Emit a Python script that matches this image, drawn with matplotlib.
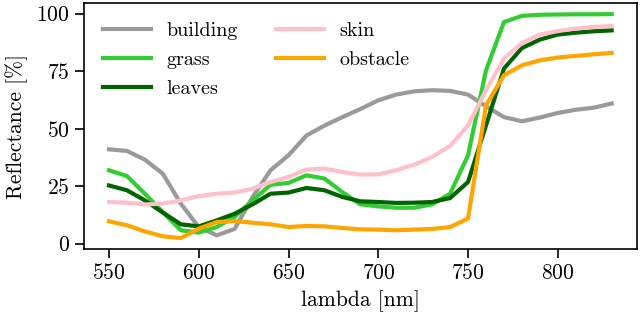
import matplotlib
matplotlib.use("Agg")
import matplotlib.pyplot as plt
import numpy as np

plt.rcParams['font.family'] = ['cmr10']
plt.rcParams['mathtext.fontset'] = 'cm'
plt.rcParams['axes.unicode_minus'] = False
plt.rcParams['axes.formatter.use_mathtext'] = True

wavelength = list(range(550, 840, 10))

building = [41.0, 40.3, 36.5, 30.4, 17.4, 7.2, 3.6, 6.4, 20.3, 31.9, 38.4, 47.0, 51.3, 55.0, 58.5,
            62.3, 64.8, 66.2, 66.7, 66.4, 64.8, 59.7, 55.0, 53.2, 54.8, 56.8, 58.2, 59.1, 60.9]
grass = [31.9, 29.4, 21.7, 13.7, 5.8, 4.8, 7.2, 11.6, 18.8, 25.6, 26.4, 29.7, 28.3, 22.4, 17.1,
         16.2, 15.6, 15.6, 17.1, 21.7, 38.4, 75.3, 96.3, 99.0, 99.5, 99.6, 99.7, 99.7, 99.8]
leaves = [25.3, 23.2, 18.8, 13.5, 8.4, 7.5, 10.1, 13.0, 17.1, 21.7, 22.2, 24.2, 23.2, 20.3, 18.4,
          18.1, 17.7, 17.8, 18.1, 19.8, 26.8, 51.4, 76.1, 85.0, 88.7, 90.9, 91.7, 92.3, 92.7]
skin = [18.1, 17.8, 17.0, 17.4, 18.8, 20.6, 21.7, 22.2, 23.9, 26.8, 29.0, 32.2, 32.6, 31.1, 30.0,
        30.1, 31.9, 34.3, 37.7, 42.4, 51.4, 66.7, 80.4, 87.2, 90.9, 92.4, 93.5, 94.2, 94.6]
obstacle = [9.7, 8.0, 5.3, 3.2, 2.4, 6.5, 9.4, 9.8, 9.1, 8.4, 7.2, 7.7, 7.5, 6.8, 6.2,
            6.1, 5.8, 6.1, 6.4, 7.2, 10.9, 60.1, 73.2, 77.5, 79.7, 80.9, 81.6, 82.3, 82.9]

series = [("building", building, "#9a9a9a"),
          ("grass", grass, "#32cd32"),
          ("leaves", leaves, "#006400"),
          ("skin", skin, "#ffc0cb"),
          ("obstacle", obstacle, "#ffa500")]

fig = plt.figure(figsize=(6.4, 3.16), dpi=100)
ax = fig.add_axes([0.131, 0.211, 0.864, 0.780])
for name, vals, col in series:
    ax.plot(wavelength, vals, color=col, lw=3, label=name)

ax.set_xticks([550, 600, 650, 700, 750, 800])
ax.set_yticks([0, 25, 50, 75, 100])
ax.tick_params(labelsize=15.5, width=1.2, length=6.5)
for s in ax.spines.values():
    s.set_linewidth(1.2)
ax.set_xlabel("lambda [nm]", fontsize=15.5, labelpad=5)
ax.set_ylabel("Reflectance [%]", fontsize=15.5, labelpad=6)
ax.legend(ncol=2, loc="upper left", frameon=False, fontsize=14.5,
          handlelength=2.4, handletextpad=0.75, columnspacing=1.9, labelspacing=0.55,
          borderaxespad=0.55, borderpad=0.4)

fig.savefig("out.png", dpi=100)
